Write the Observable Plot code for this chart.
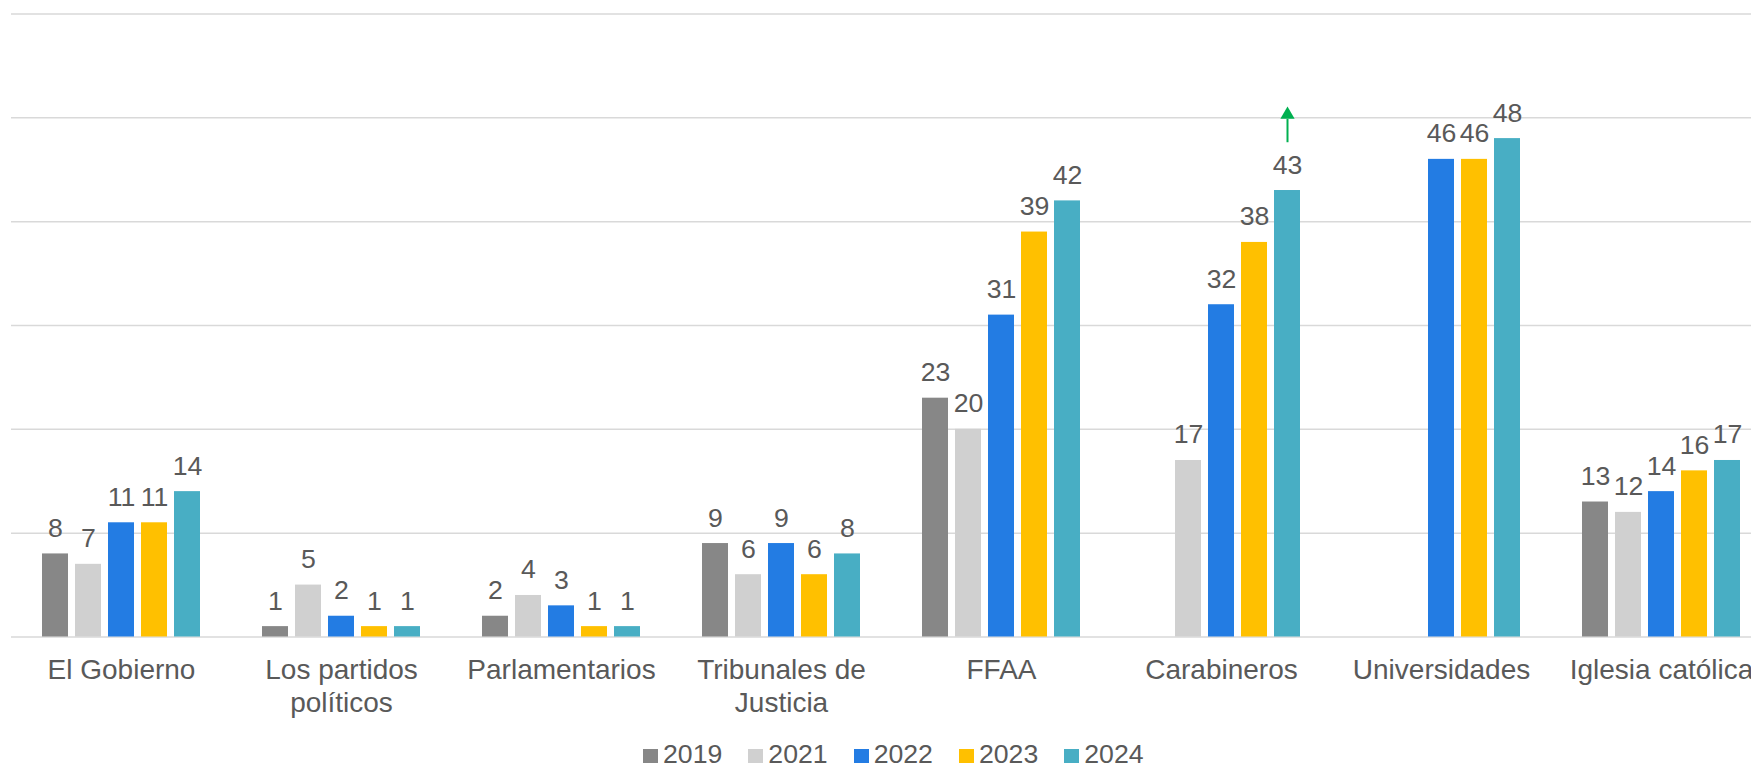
<!DOCTYPE html>
<html>
<head>
<meta charset="utf-8">
<script src="https://cdn.jsdelivr.net/npm/d3@7"></script>
<script src="https://cdn.jsdelivr.net/npm/@observablehq/plot@0.6"></script>
<style>
  html, body { margin: 0; padding: 0; background: #fff; overflow: hidden; }
  #wrap { position: relative; width: 1751px; height: 766px; overflow: hidden; font-family: "Liberation Sans", Arial, sans-serif; }
  #chart { position: absolute; left: 0; top: 0; width: 1771px; }
  #chart svg { max-width: none !important; }
  #legend { position: absolute; left: 643px; top: 744px; line-height: 20px; height: 20px; font-size: 26.67px; color: #595959; white-space: nowrap; }
  .item { display: inline-block; margin-right: 26px; }
  .sw { display: inline-block; width: 15px; height: 14px; margin-right: 5px; vertical-align: baseline; }
</style>
</head>
<body>
<div id="wrap">
  <div id="chart"></div>
  <div id="legend"></div>
</div>
<script>
const categories = ["El Gobierno", "Los partidos políticos", "Parlamentarios", "Tribunales de Justicia", "FFAA", "Carabineros", "Universidades", "Iglesia católica"];
const categoryLabels = ["El Gobierno", "Los partidos\npolíticos", "Parlamentarios", "Tribunales de\nJusticia", "FFAA", "Carabineros", "Universidades", "Iglesia católica"];
const years = ["2019", "2021", "2022", "2023", "2024"];
const v2019 = [8, 1, 2, 9, 23, null, null, 13];
const v2021 = [7, 5, 4, 6, 20, 17, null, 12];
const v2022 = [11, 2, 3, 9, 31, 32, 46, 14];
const v2023 = [11, 1, 1, 6, 39, 38, 46, 16];
const v2024 = [14, 1, 1, 8, 42, 43, 48, 17];
const colors = ["#878787", "#d0d0d0", "#237ce3", "#ffc000", "#48aec4"];
const gridTicks = [0, 10, 20, 30, 40, 50, 60];
const highlight = [{category: "Carabineros", year: "2024"}];

const series = [v2019, v2021, v2022, v2023, v2024];
const data = [];
categories.forEach((c, i) => {
  years.forEach((y, j) => {
    const v = series[j][i];
    if (v != null) data.push({category: c, year: y, value: v});
  });
});
const hl = highlight.map(h => ({...h, value: data.find(d => d.category === h.category && d.year === h.year).value}));
const labelOf = new Map(categories.map((c, i) => [c, categoryLabels[i]]));

const FONT = "Liberation Sans, Arial, sans-serif";
const TEXT = "#595959";

const chart = Plot.plot({
  width: 1771,
  height: 725,
  marginLeft: 11,
  marginRight: 0,
  marginTop: 13.5,
  marginBottom: 88.5,
  style: {fontFamily: FONT, background: "transparent", overflow: "visible", maxWidth: "none"},
  fx: {domain: categories, paddingInner: 0, paddingOuter: 0},
  x: {domain: years, paddingInner: 0.207, paddingOuter: 0.86, axis: null},
  y: {domain: [0, 60], axis: null},
  color: {domain: years, range: colors},
  marks: [
    Plot.ruleY(gridTicks, {stroke: "#d9d9d9", strokeWidth: 1.5}),
    Plot.barY(data, {fx: "category", x: "year", y1: 0, y2: "value", fill: "year"}),
    Plot.text(data, {fx: "category", x: "year", y: "value", text: d => String(d.value), lineAnchor: "bottom", dy: -17, fontSize: 26.67, fill: TEXT, fontFamily: FONT}),
    Plot.link(hl, {fx: "category", x1: "year", x2: "year", y1: d => d.value + 4.65, y2: d => d.value + 6.9, stroke: "#00b050", strokeWidth: 2}),
    Plot.dot(hl, {fx: "category", x: "year", y: d => d.value + 7.3, symbol: "triangle", r: 5.3, fill: "#00b050", stroke: "none"}),
    Plot.axisFx({anchor: "bottom", tickSize: 0, tickPadding: 19, tickFormat: c => labelOf.get(c), fontSize: 28, lineHeight: 1.18, fill: TEXT, label: null, fontFamily: FONT})
  ]
});
document.getElementById("chart").appendChild(chart);

const legend = document.getElementById("legend");
years.forEach((y, i) => {
  const item = document.createElement("span");
  item.className = "item";
  const sw = document.createElement("span");
  sw.className = "sw";
  sw.style.background = colors[i];
  item.appendChild(sw);
  item.appendChild(document.createTextNode(y));
  legend.appendChild(item);
});
</script>
</body>
</html>
